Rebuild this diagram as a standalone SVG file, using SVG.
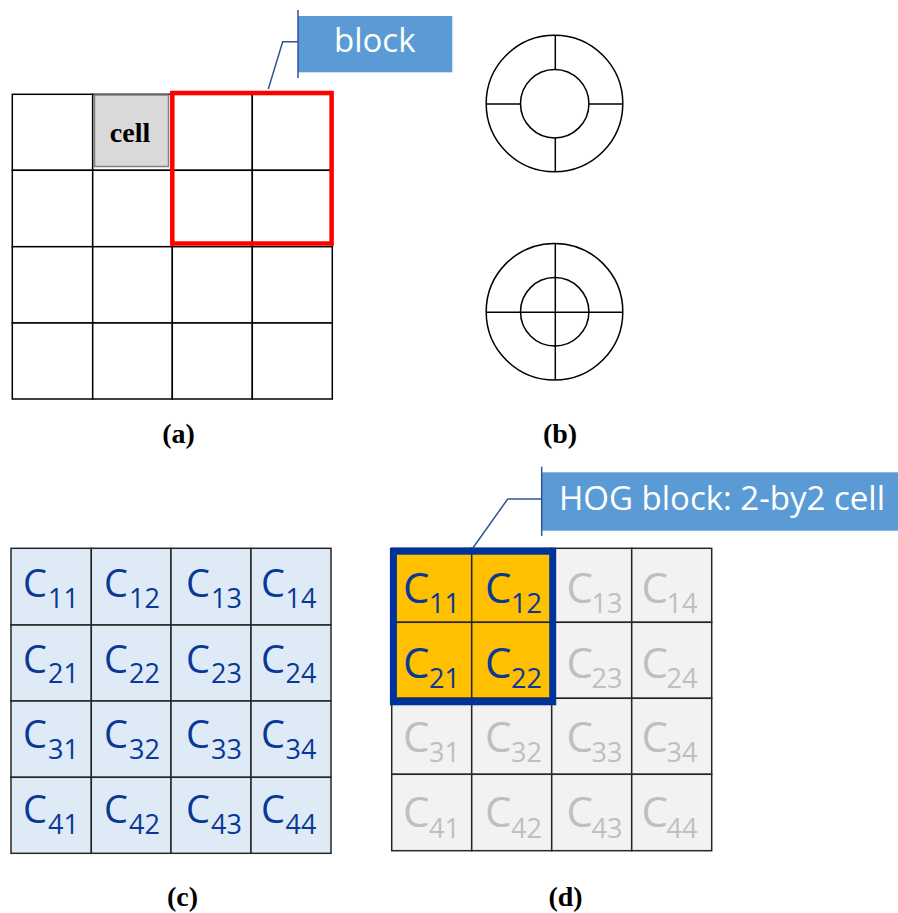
<svg xmlns="http://www.w3.org/2000/svg" width="898" height="913" viewBox="0 0 898 913">
<style>
.g{fill:#fff;stroke:#000;stroke-width:1.5}
.lab{font-family:"Liberation Serif","Times New Roman",serif;font-weight:bold;font-size:28px;fill:#000;text-anchor:middle}
.call{fill:#5b9bd5}
.ct{font-family:"Open Sans","Noto Sans",sans-serif;font-size:33px;fill:#fff}
.lead{fill:none;stroke:#2f5597;stroke-width:1.5}
.circ{fill:none;stroke:#000;stroke-width:1.5}
.cb{fill:#deebf7;stroke:#262626;stroke-width:1.5}
.cg{fill:#f2f2f2;stroke:#262626;stroke-width:1.5}
.co{fill:#ffc000;stroke:#262626;stroke-width:1.5}
.tc{font-family:"Open Sans","Noto Sans",sans-serif;font-size:38px;fill:#0a3896}
.td{font-family:"Open Sans","Noto Sans",sans-serif;font-size:42px}
.sub{font-size:27px}
.blue{fill:#0a3896}
.gray{fill:#bfbfbf}
</style>
<g id="panel-a">
<rect class="g" x="12.3" y="94.3" width="80.4" height="76"/>
<rect class="g" x="92.7" y="94.3" width="79.6" height="76"/>
<rect class="g" x="172.3" y="94.3" width="80" height="76"/>
<rect class="g" x="252.3" y="94.3" width="80" height="76"/>
<rect class="g" x="12.3" y="170.3" width="80.4" height="76.4"/>
<rect class="g" x="92.7" y="170.3" width="79.6" height="76.4"/>
<rect class="g" x="172.3" y="170.3" width="80" height="76.4"/>
<rect class="g" x="252.3" y="170.3" width="80" height="76.4"/>
<rect class="g" x="12.3" y="246.7" width="80.4" height="76.3"/>
<rect class="g" x="92.7" y="246.7" width="79.6" height="76.3"/>
<rect class="g" x="172.3" y="246.7" width="80" height="76.3"/>
<rect class="g" x="252.3" y="246.7" width="80" height="76.3"/>
<rect class="g" x="12.3" y="323" width="80.4" height="76"/>
<rect class="g" x="92.7" y="323" width="79.6" height="76"/>
<rect class="g" x="172.3" y="323" width="80" height="76"/>
<rect class="g" x="252.3" y="323" width="80" height="76"/>
</g>
<g id="cell">
<rect x="94.5" y="95" width="74" height="71.5" fill="#d9d9d9" stroke="#808080" stroke-width="1.5"/>
<text class="lab" x="130" y="141.5">cell</text>
</g>
<g id="block-a">
<rect x="172.3" y="93" width="159.3" height="150.5" fill="none" stroke="#ff0000" stroke-width="4.5"/>
</g>
<g id="callout-block">
<rect class="call" x="298" y="16" width="154.3" height="56.3"/>
<line x1="298" y1="10" x2="298" y2="78" stroke="#2f5597" stroke-width="1.5"/>
<text class="ct" x="334" y="52.3">block</text>
</g>
<g id="panel-b-top">
<circle class="circ" cx="554.5" cy="103.5" r="68.3"/>
<circle class="circ" cx="554.7" cy="103.7" r="34.2"/>
<line class="circ" x1="486.2" y1="104" x2="520.5" y2="104"/>
<line class="circ" x1="588.9" y1="104" x2="622.8" y2="104"/>
<line class="circ" x1="555.3" y1="35.2" x2="555.3" y2="69.5"/>
<line class="circ" x1="555.3" y1="137.9" x2="555.3" y2="171.8"/>
</g>
<g id="panel-b-bottom">
<circle class="circ" cx="554.5" cy="311.7" r="68.3"/>
<circle class="circ" cx="554.7" cy="311.8" r="34.2"/>
<line class="circ" x1="486.2" y1="312.3" x2="622.8" y2="312.3"/>
<line class="circ" x1="555.3" y1="243.4" x2="555.3" y2="380"/>
</g>
<g id="labels">
<text class="lab" x="178.5" y="443">(a)</text>
<text class="lab" x="560" y="443">(b)</text>
<text class="lab" x="182.5" y="906">(c)</text>
<text class="lab" x="565.5" y="906">(d)</text>
</g>
<g id="panel-c">
<rect class="cb" x="11" y="548.3" width="80.3" height="76.7"/>
<rect class="cb" x="91.3" y="548.3" width="79.7" height="76.7"/>
<rect class="cb" x="171" y="548.3" width="80" height="76.7"/>
<rect class="cb" x="251" y="548.3" width="80" height="76.7"/>
<rect class="cb" x="11" y="625" width="80.3" height="76"/>
<rect class="cb" x="91.3" y="625" width="79.7" height="76"/>
<rect class="cb" x="171" y="625" width="80" height="76"/>
<rect class="cb" x="251" y="625" width="80" height="76"/>
<rect class="cb" x="11" y="701" width="80.3" height="76.3"/>
<rect class="cb" x="91.3" y="701" width="79.7" height="76.3"/>
<rect class="cb" x="171" y="701" width="80" height="76.3"/>
<rect class="cb" x="251" y="701" width="80" height="76.3"/>
<rect class="cb" x="11" y="777.3" width="80.3" height="76"/>
<rect class="cb" x="91.3" y="777.3" width="79.7" height="76"/>
<rect class="cb" x="171" y="777.3" width="80" height="76"/>
<rect class="cb" x="251" y="777.3" width="80" height="76"/>
<g class="tc">
<text x="23" y="596.5">C<tspan class="sub" x="48" y="607.5">11</tspan></text>
<text x="104" y="596.5">C<tspan class="sub" x="129" y="607.5">12</tspan></text>
<text x="186" y="596.5">C<tspan class="sub" x="211" y="607.5">13</tspan></text>
<text x="261" y="596.5">C<tspan class="sub" x="285.5" y="607.5">14</tspan></text>
<text x="23" y="672.5">C<tspan class="sub" x="48" y="683">21</tspan></text>
<text x="104" y="672.5">C<tspan class="sub" x="129" y="683">22</tspan></text>
<text x="186" y="672.5">C<tspan class="sub" x="211" y="683">23</tspan></text>
<text x="261" y="672.5">C<tspan class="sub" x="285.5" y="683">24</tspan></text>
<text x="23" y="748.3">C<tspan class="sub" x="48" y="758.5">31</tspan></text>
<text x="104" y="748.3">C<tspan class="sub" x="129" y="758.5">32</tspan></text>
<text x="186" y="748.3">C<tspan class="sub" x="211" y="758.5">33</tspan></text>
<text x="261" y="748.3">C<tspan class="sub" x="285.5" y="758.5">34</tspan></text>
<text x="23" y="823.3">C<tspan class="sub" x="48" y="833.5">41</tspan></text>
<text x="104" y="823.3">C<tspan class="sub" x="129" y="833.5">42</tspan></text>
<text x="186" y="823.3">C<tspan class="sub" x="211" y="833.5">43</tspan></text>
<text x="261" y="823.3">C<tspan class="sub" x="285.5" y="833.5">44</tspan></text>
</g>
</g>
<g id="panel-d">
<rect class="co" x="391.7" y="548.3" width="80" height="74"/>
<rect class="co" x="471.7" y="548.3" width="80" height="74"/>
<rect class="cg" x="551.7" y="548.3" width="80" height="74"/>
<rect class="cg" x="631.7" y="548.3" width="80" height="74"/>
<rect class="co" x="391.7" y="622.3" width="80" height="76"/>
<rect class="co" x="471.7" y="622.3" width="80" height="76"/>
<rect class="cg" x="551.7" y="622.3" width="80" height="76"/>
<rect class="cg" x="631.7" y="622.3" width="80" height="76"/>
<rect class="cg" x="391.7" y="698.3" width="80" height="76"/>
<rect class="cg" x="471.7" y="698.3" width="80" height="76"/>
<rect class="cg" x="551.7" y="698.3" width="80" height="76"/>
<rect class="cg" x="631.7" y="698.3" width="80" height="76"/>
<rect class="cg" x="391.7" y="774.3" width="80" height="76.4"/>
<rect class="cg" x="471.7" y="774.3" width="80" height="76.4"/>
<rect class="cg" x="551.7" y="774.3" width="80" height="76.4"/>
<rect class="cg" x="631.7" y="774.3" width="80" height="76.4"/>
<g class="td">
<text class="blue" x="403" y="603.3">C<tspan class="sub" x="429" y="613.3">11</tspan></text>
<text class="blue" x="485" y="603.3">C<tspan class="sub" x="511" y="613.3">12</tspan></text>
<text class="gray" x="566.5" y="603.3">C<tspan class="sub" x="591.5" y="613.3">13</tspan></text>
<text class="gray" x="641.5" y="603.3">C<tspan class="sub" x="666.5" y="613.3">14</tspan></text>
<text class="blue" x="403" y="678.3">C<tspan class="sub" x="429" y="688">21</tspan></text>
<text class="blue" x="485" y="678.3">C<tspan class="sub" x="511" y="688">22</tspan></text>
<text class="gray" x="566.5" y="678.3">C<tspan class="sub" x="591.5" y="688">23</tspan></text>
<text class="gray" x="641.5" y="678.3">C<tspan class="sub" x="666.5" y="688">24</tspan></text>
<text class="gray" x="403" y="751.7">C<tspan class="sub" x="429" y="761.7">31</tspan></text>
<text class="gray" x="485" y="751.7">C<tspan class="sub" x="511" y="761.7">32</tspan></text>
<text class="gray" x="566.5" y="751.7">C<tspan class="sub" x="591.5" y="761.7">33</tspan></text>
<text class="gray" x="641.5" y="751.7">C<tspan class="sub" x="666.5" y="761.7">34</tspan></text>
<text class="gray" x="403" y="826.7">C<tspan class="sub" x="429" y="837.7">41</tspan></text>
<text class="gray" x="485" y="826.7">C<tspan class="sub" x="511" y="837.7">42</tspan></text>
<text class="gray" x="566.5" y="826.7">C<tspan class="sub" x="591.5" y="837.7">43</tspan></text>
<text class="gray" x="641.5" y="826.7">C<tspan class="sub" x="666.5" y="837.7">44</tspan></text>
</g>
</g>
<g id="block-d">
<rect x="393.4" y="551.2" width="159.3" height="150.6" fill="none" stroke="#00339a" stroke-width="7"/>
</g>
<g id="callout-hog">
<rect class="call" x="541.7" y="472.3" width="356.3" height="58.4"/>
<line x1="541.7" y1="466.7" x2="541.7" y2="536" stroke="#2f5597" stroke-width="1.5"/>
<text class="ct" x="559" y="510">HOG block: 2-by2 cell</text>
</g>
<g id="connectors">
<polyline class="lead" points="298,41.7 282.7,41.7 268.3,89"/>
<polyline class="lead" points="541.7,499 507.7,499 472.7,548.3"/>
</g>
</svg>
